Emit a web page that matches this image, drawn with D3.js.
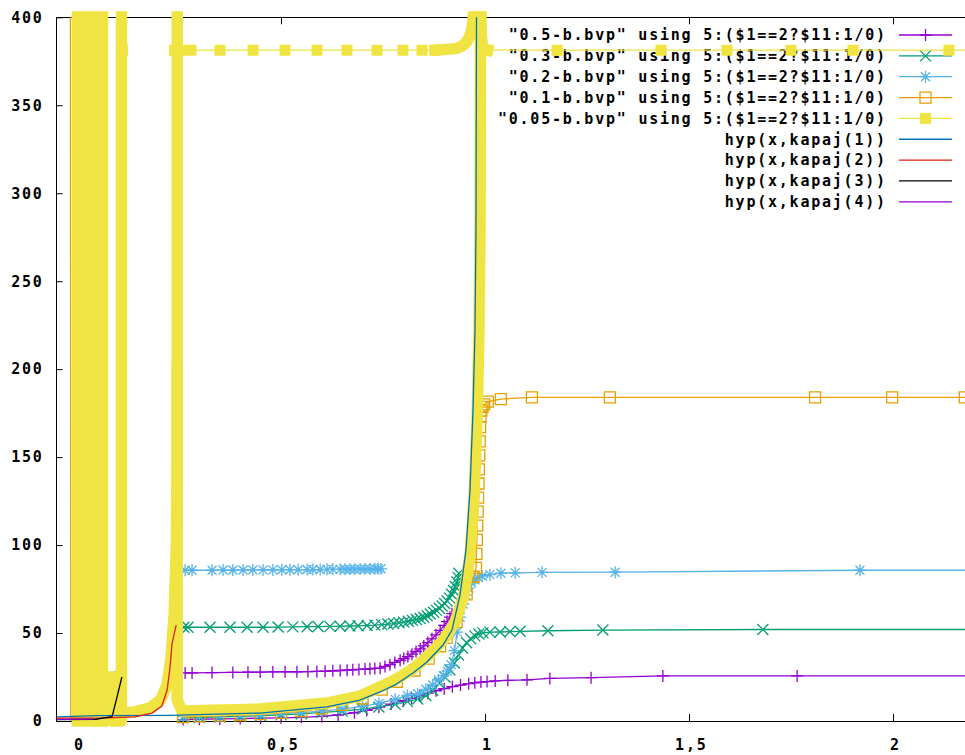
<!DOCTYPE html>
<meta charset="utf-8">
<style>
body { margin: 0; background: #fff; }
svg text {
  font-family: "DejaVu Sans Mono", monospace;
  font-weight: bold;
  font-size: 15px;
  letter-spacing: 1.77px;
  fill: #000;
}
</style>
<svg class="chart" width="965" height="755"></svg>
<script src="https://d3js.org/d3.v7.min.js"></script>
<script>

// axes
var yTicks = [0, 50, 100, 150, 200, 250, 300, 350, 400];
var xTicks = [0, 0.5, 1, 1.5, 2];
var xTickLabels = ["0", "0,5", "1", "1,5", "2"];

var legendLabels = [
  '"0.5-b.bvp" using 5:($1==2?$11:1/0)',
  '"0.3-b.bvp" using 5:($1==2?$11:1/0)',
  '"0.2-b.bvp" using 5:($1==2?$11:1/0)',
  '"0.1-b.bvp" using 5:($1==2?$11:1/0)',
  '"0.05-b.bvp" using 5:($1==2?$11:1/0)',
  "hyp(x,kapaj(1))",
  "hyp(x,kapaj(2))",
  "hyp(x,kapaj(3))",
  "hyp(x,kapaj(4))"
];

// "0.5-b.bvp"  (null = gap in the data)
var b05X = [0.107, null,
  0.265, 0.282, 0.331, 0.382, 0.419, 0.449, 0.480, 0.510, 0.539, 0.566, 0.588, 0.608, 0.627, 0.645, 0.662, 0.676,
  0.691, 0.706, 0.718, 0.730, 0.743, 0.755, 0.767, 0.779, 0.792, 0.801, 0.811, 0.821, 0.831, 0.841, 0.850, 0.860,
  0.870, 0.880, 0.890, 0.900, 0.907, 0.914, 0.919, null,
  0.26, 0.30, 0.35, 0.40, 0.45, 0.50, 0.55, 0.60, 0.64, 0.68, 0.71, 0.74, 0.77, 0.80, 0.82, 0.84, 0.86, 0.88,
  0.90, 0.92, 0.94, 0.96, 0.975, 0.99, 1.005, 1.025, 1.056, 1.103, 1.159, 1.26, 1.436, 1.765, 2.4];
var b05Y = [28, null,
  27.3, 27.3, 27.5, 27.6, 27.7, 27.8, 27.9, 28.0, 28.0, 28.1, 28.2, 28.3, 28.5, 28.7, 28.9, 29.1,
  29.3, 29.5, 29.7, 29.9, 30.0, 31.0, 32.0, 33.3, 34.5, 35.5, 36.6, 38.0, 39.5, 41.0, 42.7, 44.6,
  46.7, 49.0, 51.5, 54.3, 56.5, 59.0, 61.0, null,
  0.8, 1.0, 1.2, 1.4, 1.6, 1.8, 2.1, 2.6, 3.4, 4.7, 6.0, 7.8, 9.6, 11.5, 12.9, 14.3, 15.8, 17.2,
  18.4, 19.5, 20.4, 21.2, 21.7, 22.1, 22.4, 22.8, 23.1, 23.4, 24.2, 24.6, 25.6, 25.6, 25.6];

// "0.3-b.bvp"
var b03X = [0.109, null,
  0.262, 0.272, 0.326, 0.375, 0.417, 0.456, 0.493, 0.529, 0.564, 0.591, 0.620, 0.645, 0.669, 0.689, 0.711, 0.730,
  0.747, 0.762, 0.776, 0.789, 0.801, 0.812, 0.822, 0.832, 0.841, 0.850, 0.858, 0.866, 0.874, 0.881, 0.888, 0.895,
  0.901, 0.907, 0.913, 0.918, 0.923, 0.927, 0.931, 0.934, 0.936, null,
  0.26, 0.30, 0.35, 0.40, 0.45, 0.50, 0.55, 0.60, 0.65, 0.70, 0.74, 0.78, 0.81, 0.835, 0.855, 0.872, 0.888, 0.902,
  0.914, 0.925, 0.935, 0.945, 0.955, 0.965, 0.975, 0.985, 0.995, 1.012, 1.037, 1.061, 1.086, 1.154, 1.289, 1.681, 2.4];
var b03Y = [55, null,
  53.3, 53.3, 53.3, 53.3, 53.3, 53.3, 53.4, 53.5, 53.6, 53.7, 53.8, 53.9, 54.0, 54.1, 54.3, 54.5,
  54.8, 55.1, 55.4, 55.8, 56.2, 56.7, 57.2, 57.7, 58.3, 59.0, 59.8, 60.8, 61.8, 62.9, 64.1, 65.4,
  66.8, 68.3, 70.0, 72.0, 74.2, 76.5, 79.0, 81.5, 84.0, null,
  1.8, 2.0, 2.3, 2.6, 3.0, 3.5, 4.1, 4.9, 5.6, 6.8, 8.0, 9.5, 11.0, 12.5, 14.5, 17.5, 21.5, 25.0,
  29.0, 33.0, 37.5, 41.5, 44.5, 46.8, 48.4, 49.5, 50.1, 50.5, 50.6, 50.8, 51.0, 51.3, 51.7, 52.0, 52.0];

// "0.2-b.bvp"
var b02X = [0.265, 0.282, 0.331, 0.358, 0.382, 0.407, 0.431, 0.456, 0.480, 0.502, 0.522, 0.542, 0.564, 0.578,
  0.596, 0.613, 0.627, 0.645, 0.657, 0.669, 0.681, 0.694, 0.706, 0.718, 0.730, 0.738, 0.745, null,
  0.26, 0.30, 0.35, 0.40, 0.45, 0.50, 0.55, 0.60, 0.65, 0.70, 0.74, 0.78, 0.81, 0.835, 0.855, 0.872, 0.886, 0.898,
  0.908, 0.917, 0.925, 0.932, 0.939, 0.946, 0.953, 0.960, 0.967, 0.975, 0.983, 0.993, 1.012, 1.039, 1.074, 1.140,
  1.319, 1.919, 2.4];
var b02Y = [85.7, 85.7, 85.7, 85.8, 85.8, 85.8, 85.9, 85.9, 85.9, 86.0, 86.0, 86.0, 86.1, 86.1,
  86.1, 86.2, 86.2, 86.2, 86.3, 86.3, 86.3, 86.4, 86.4, 86.4, 86.5, 86.5, 86.5, null,
  2.5, 2.7, 3.0, 3.3, 3.7, 4.2, 4.8, 5.6, 6.8, 8.3, 10.0, 12.3, 14.5, 15.5, 18.0, 20.5, 23.3, 25.8,
  28.3, 32.0, 40.0, 50.5, 59.0, 66.5, 71.5, 75.5, 78.5, 80.3, 81.5, 82.3, 83.2, 84.0, 84.2, 84.5,
  84.6, 85.7, 85.7];

// "0.1-b.bvp"
var b01X = [-0.0165, -0.015, null,
  0.26, 0.30, 0.35, 0.40, 0.45, 0.50, 0.55, 0.60, 0.65, 0.70, 0.747, 0.784, 0.8275, 0.862, 0.89, 0.906, 0.9305,
  0.955, 0.972, 0.978, 0.979, 0.980, 0.981, 0.982, 0.983, 0.984, 0.985, 0.986, 0.987, 0.988, 0.989, 0.991, 0.994,
  0.998, 1.007, 1.039, 1.115, 1.306, 1.809, 1.998, 2.176, 2.4];
var b01Y = [520, -40, null,
  2.2, 2.6, 3.0, 3.4, 3.9, 4.6, 5.6, 7.0, 9.2, 12.8, 17.8, 22.3, 28.7, 35.5, 42.5, 47.2, 56.3,
  72, 82, 87, 95, 103, 111, 119, 127, 135, 143, 151, 159, 167, 173, 176.5, 178.5,
  180, 181.5, 183, 184, 184, 184, 184, 184, 184];

// "0.05-b.bvp" sparse part
var b005X = [0.1115, null, 0.239, 0.259, 0.279, 0.3505, 0.4314, 0.5098, 0.5882, 0.6618, 0.7353, 0.799, 0.8456, 0.8775,
  null, 1.006, 1.1765, 1.4314, 1.5931, 1.75, 1.902, 2.137, 2.4];
var b005Y = [381.3, null, 381.3, 381.3, 381.3, 381.3, 381.3, 381.3, 381.3, 381.3, 381.3, 381.3, 381.3, 381.3,
  null, 381.4, 381.3, 381.3, 381.3, 381.3, 381.3, 381.3, 381.3];

// "0.05-b.bvp" dense parts (points packed so tightly the squares merge)
var b005BandsX = [
  [0.001, 0.001, null, 0.0135, 0.0135, null, 0.026, 0.026, null, 0.0385, 0.0385, null, 0.051, 0.051, null, 0.0625, 0.0625],
  [0.109, 0.109, 0.0855, 0.0855],
  [0.11, 0.142, 0.18, 0.205, 0.22, 0.23, 0.238, 0.2435, 0.2456, 0.2456],
  [0.2456, 0.2456, 0.2574, 0.4485, 0.6127, 0.6936, 0.7426, 0.7794, 0.8235, 0.8578, 0.902, 0.9265, 0.9485,
   0.9632, 0.973, 0.9804, 0.9853, 0.9877, 0.989, 0.9892],
  [0.8775, 0.93, 0.945, 0.955, 0.962, 0.967, 0.9705, 0.973, 0.975, 0.976],
  [0.9895, 0.990, 0.991, 0.993, 0.996, 1.0, 1.006]
];
var b005BandsY = [
  [0, 430, null, 0, 430, null, 0, 430, null, 0, 430, null, 0, 430, null, 0, 430],
  [430, 0, 0, 25],
  [4.5, 5.2, 7.5, 12, 20, 35, 60, 100, 160, 430],
  [200, 12, 5.7, 6.8, 10.2, 14.2, 19.3, 23.3, 29.6, 36.4, 47.2, 56.3, 71.6,
   94.4, 125.6, 171.1, 222.3, 279.1, 400.8, 430],
  [381.3, 382.2, 383.8, 386, 389, 393, 398, 405, 420, 440],
  [430, 400, 390, 385, 382.5, 381.8, 381.4]
];

// functions
var hyp1X = [-0.05, 0.05, 0.228, 0.4485, 0.6127, 0.6936, 0.7426, 0.7794, 0.8235, 0.8578, 0.8971, 0.9191,
  0.9387, 0.9534, 0.9632, 0.9706, 0.9755, 0.9779, 0.9792, 0.9794];
var hyp1Y = [2.4, 3.0, 3.2, 4.5, 8.0, 11.9, 16.5, 20.5, 27.3, 33.5, 43.2, 51.7,
  71.6, 97.2, 131.3, 176.8, 222.3, 279.1, 400.8, 430];
var hyp2X = [-0.05, 0.076, 0.142, 0.184, 0.208, 0.221, 0.228, 0.233, 0.243];
var hyp2Y = [1.6, 1.8, 2.3, 4.5, 8.5, 17.6, 30.6, 44, 54.5];
var hyp3X = [-0.05, 0.046, 0.086, 0.098, 0.110];
var hyp3Y = [0.8, 1.0, 2.5, 13.6, 25];
var hyp4X = [-0.05, 0.04];
var hyp4Y = [0.9, 1.1];

var svg = d3.select("svg.chart");

var x = d3.scaleLinear().domain([-0.05, 2.4]).range([56.6, 1056.2]);
var y = d3.scaleLinear().domain([0, 400]).range([721, 17.3]);

var pLeft = x(-0.05), pRight = 965, pTop = y(400), pBottom = y(0);

var defs = svg.append("defs");
defs.append("clipPath").attr("id", "clipLines").append("rect")
  .attr("x", pLeft).attr("y", pTop).attr("width", pRight - pLeft).attr("height", pBottom - pTop);
defs.append("clipPath").attr("id", "clipPoints").append("rect")
  .attr("x", pLeft).attr("y", pTop - 6).attr("width", pRight - pLeft).attr("height", pBottom - pTop + 12);

// border and ticks
var yAxis = svg.append("g")
  .attr("transform", `translate(${pLeft},0)`)
  .call(d3.axisLeft(y).tickValues(yTicks).tickSize(-6).tickPadding(13).tickFormat(d3.format("d")));
yAxis.select(".domain").remove();

var xAxis = svg.append("g")
  .attr("transform", `translate(0,${pBottom})`)
  .call(d3.axisBottom(x).tickValues(xTicks).tickSize(-7).tickPadding(18)
    .tickFormat(function(d, i) { return xTickLabels[i]; }));
xAxis.select(".domain").remove();
xAxis.selectAll("text").attr("dx", "0.12em");

var xTop = svg.append("g")
  .attr("transform", `translate(0,${pTop})`)
  .call(d3.axisTop(x).tickValues(xTicks).tickSize(-7).tickFormat(""));
xTop.select(".domain").remove();

svg.append("path")
  .attr("d", `M${pRight},${pTop}H${pLeft}V${pBottom}H${pRight}`)
  .attr("fill", "none")
  .attr("stroke", "#000")
  .attr("stroke-width", 1)
  .attr("shape-rendering", "crispEdges");

function markerPath(type, s) {
  var plus = `M${-s},0H${s}M0,${-s}V${s}`;
  var d = s * 0.75;
  var cross = `M${-s},${-s}L${s},${s}M${-s},${s}L${s},${-s}`;
  if (type == "plus") return plus;
  if (type == "cross") return cross;
  if (type == "star") return plus + `M${-d},${-d}L${d},${d}M${-d},${d}L${d},${-d}`;
  return `M${-s},${-s}H${s}V${s}H${-s}Z`;
}

var lineGen = d3.line()
  .defined(function(d) { return d != null; })
  .x(function(d) { return x(d[0]); })
  .y(function(d) { return y(d[1]); });

function zip(xs, ys) {
  return xs.map(function(v, i) { return v == null ? null : [v, ys[i]]; });
}

// legend
var rowY = legendLabels.map(function(t, i) { return 35 + i * 20.85; });
var legend = svg.append("g");
legend.selectAll("text")
  .data(legendLabels)
  .enter().append("text")
    .attr("x", 886.8)
    .attr("y", function(d, i) { return rowY[i]; })
    .attr("dy", ".35em")
    .attr("text-anchor", "end")
    .text(function(d) { return d; });

var series = [
  { xs: b05X, ys: b05Y, color: "#9400d3", marker: "plus", size: 6 },
  { xs: b03X, ys: b03Y, color: "#009e73", marker: "cross", size: 5.5 },
  { xs: b02X, ys: b02Y, color: "#56b4e9", marker: "star", size: 6 },
  { xs: b01X, ys: b01Y, color: "#e69f00", marker: "box", size: 5.5 },
  { xs: b005X, ys: b005Y, color: "#f0e442", marker: "fbox", size: 5.5 }
];

series.forEach(function(s, i) {
  var g = svg.append("g");
  var filled = s.marker == "fbox";

  // legend sample
  g.append("line")
    .attr("x1", 899).attr("x2", 952)
    .attr("y1", rowY[i]).attr("y2", rowY[i])
    .attr("stroke", s.color).attr("stroke-width", 1.3);
  g.append("path")
    .attr("transform", `translate(925.5,${rowY[i]})`)
    .attr("d", markerPath(s.marker, s.size))
    .attr("fill", filled ? s.color : "none")
    .attr("stroke", filled ? "none" : s.color)
    .attr("stroke-width", 1.3);

  // dense yellow regions
  if (filled) {
    b005BandsX.forEach(function(bx, j) {
      g.append("path")
        .attr("d", lineGen(zip(bx, b005BandsY[j])))
        .attr("clip-path", "url(#clipPoints)")
        .attr("fill", "none")
        .attr("stroke", s.color)
        .attr("stroke-width", 11.5)
        .attr("stroke-linejoin", "round")
        .attr("stroke-linecap", "square");
    });
  }

  var pts = zip(s.xs, s.ys);
  g.append("path")
    .attr("d", lineGen(pts))
    .attr("clip-path", "url(#clipLines)")
    .attr("fill", "none")
    .attr("stroke", s.color)
    .attr("stroke-width", 1.3);

  var shown = pts.filter(function(d) {
    return d && d[1] >= 0 && d[1] <= 400 && d[0] >= -0.05 && d[0] <= 2.4;
  });
  g.append("g")
    .attr("clip-path", "url(#clipPoints)")
    .selectAll("path")
    .data(shown)
    .enter().append("path")
      .attr("transform", function(d) { return `translate(${x(d[0])},${y(d[1])})`; })
      .attr("d", markerPath(s.marker, s.size))
      .attr("fill", filled ? s.color : "none")
      .attr("stroke", filled ? "none" : s.color)
      .attr("stroke-width", 1.3);
});

var funcs = [
  { xs: hyp1X, ys: hyp1Y, color: "#0072b2" },
  { xs: hyp2X, ys: hyp2Y, color: "#e51e10" },
  { xs: hyp3X, ys: hyp3Y, color: "#000000" },
  { xs: hyp4X, ys: hyp4Y, color: "#9400d3" }
];

funcs.forEach(function(f, i) {
  svg.append("line")
    .attr("x1", 899).attr("x2", 952)
    .attr("y1", rowY[i + 5]).attr("y2", rowY[i + 5])
    .attr("stroke", f.color).attr("stroke-width", 1.3);
  svg.append("path")
    .attr("d", lineGen(zip(f.xs, f.ys)))
    .attr("clip-path", "url(#clipLines)")
    .attr("fill", "none")
    .attr("stroke", f.color)
    .attr("stroke-width", 1.3);
});

</script>
